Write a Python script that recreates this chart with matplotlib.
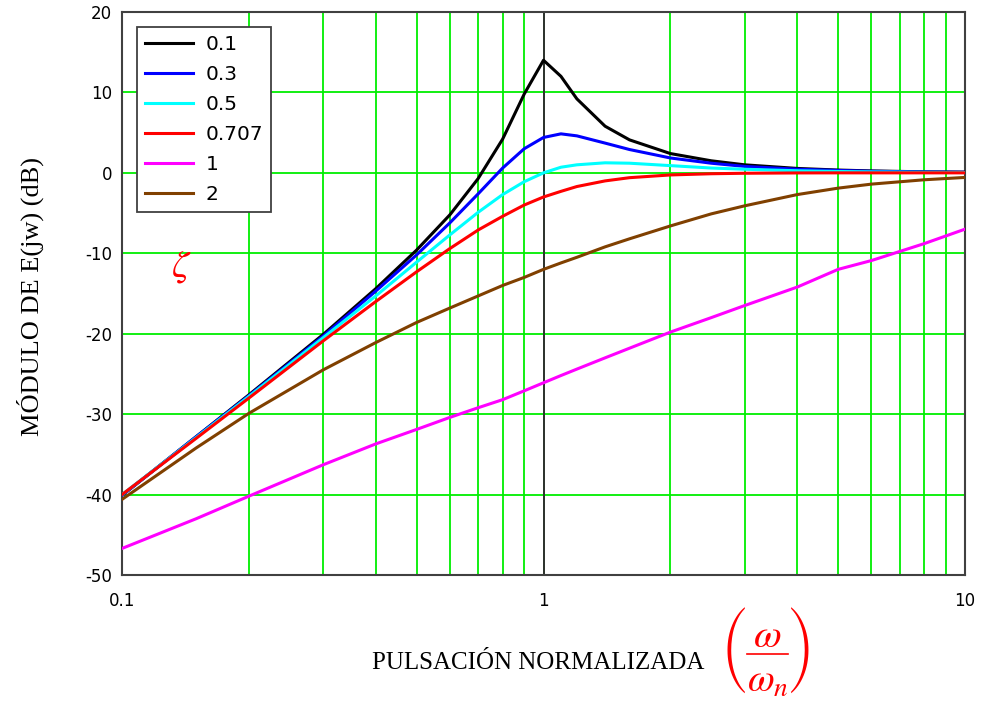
import matplotlib
matplotlib.use("Agg")
import matplotlib.pyplot as plt
from matplotlib.lines import Line2D
from matplotlib.ticker import LogLocator, NullFormatter

plt.rcParams['axes.unicode_minus'] = False
plt.rcParams['mathtext.fontset'] = 'stix'

# ---- data ----
freq = [0.1, 0.15, 0.2, 0.3, 0.4, 0.5, 0.6, 0.7, 0.8, 0.9, 1.0, 1.1, 1.2,
        1.4, 1.6, 2.0, 2.5, 3.0, 4.0, 5.0, 6.0, 8.0, 10.0]

z01 = [-40.1, -32.8, -27.6, -20.1, -14.4, -9.6, -5.2, -0.7, 4.2, 9.8, 14.0, 12.0, 9.2,
       5.8, 4.1, 2.4, 1.5, 1.0, 0.55, 0.35, 0.24, 0.13, 0.09]
z03 = [-40.1, -32.8, -27.7, -20.3, -14.7, -10.2, -6.2, -2.6, 0.6, 3.0, 4.4, 4.85, 4.6,
       3.7, 2.9, 1.85, 1.2, 0.8, 0.45, 0.3, 0.2, 0.11, 0.07]
z05 = [-40.0, -32.9, -27.8, -20.5, -15.3, -11.1, -7.7, -4.9, -2.7, -1.1, 0.0, 0.7, 1.0,
       1.25, 1.2, 0.9, 0.6, 0.45, 0.26, 0.17, 0.12, 0.07, 0.04]
z0707 = [-40.0, -33.0, -28.0, -20.9, -16.0, -12.3, -9.4, -7.1, -5.4, -4.0, -3.0, -2.3, -1.7,
         -1.0, -0.6, -0.26, -0.11, -0.05, -0.01, 0.0, 0.0, 0.0, 0.0]
z1 = [-46.7, -43.0, -40.2, -36.3, -33.7, -31.9, -30.4, -29.2, -28.2, -27.1, -26.1, -25.2, -24.4,
      -23.0, -21.8, -19.8, -18.0, -16.5, -14.2, -12.0, -10.9, -8.8, -7.0]
z2 = [-40.6, -34.2, -29.9, -24.5, -21.1, -18.6, -16.8, -15.3, -14.0, -13.0, -12.0, -11.2, -10.5,
      -9.2, -8.2, -6.6, -5.1, -4.1, -2.7, -1.9, -1.4, -0.86, -0.57]

series = [("0.1", z01, "#000000"),
          ("0.3", z03, "#0000ff"),
          ("0.5", z05, "#00ffff"),
          ("0.707", z0707, "#ff0000"),
          ("1", z1, "#ff00ff"),
          ("2", z2, "#804000")]

y_ticks = [-50, -40, -30, -20, -10, 0, 10, 20]
x_ticks = [0.1, 1, 10]
x_tick_labels = ["0.1", "1", "10"]

W, H = 984, 701
fig = plt.figure(figsize=(W / 100, H / 100), dpi=100)
L, R, T, B = 122, 965, 12, 575
ax = fig.add_axes([L / W, 1 - B / H, (R - L) / W, (B - T) / H])

ax.set_xscale('log')
ax.set_xlim(0.1, 10)
ax.set_ylim(-50, 20)

ax.set_xticks(x_ticks)
ax.set_xticklabels(x_tick_labels)
ax.xaxis.set_minor_locator(LogLocator(base=10, subs=range(2, 10)))
ax.xaxis.set_minor_formatter(NullFormatter())
ax.set_yticks(y_ticks)

ax.grid(True, which='both', axis='x', color='#00ee00', lw=1.3)
ax.grid(True, which='major', axis='y', color='#00ee00', lw=1.3)
ax.set_axisbelow(True)
ax.axvline(1, color='#303030', lw=1.4, zorder=1.5)

ax.tick_params(which='both', length=0, labelsize=12)
ax.tick_params(axis='y', pad=7)
ax.tick_params(axis='x', pad=12)

for sp in ax.spines.values():
    sp.set_color('#404040')
    sp.set_linewidth(1.5)

for lab, vals, col in series:
    ax.plot(freq, vals, color=col, lw=2.2, label=lab, zorder=3)

leg = ax.legend(loc='upper left', bbox_to_anchor=(15 / (R - L), 1 - 15 / (B - T)),
                borderaxespad=0, fontsize=14.5, handlelength=2.4, handletextpad=0.6,
                labelspacing=0.55, borderpad=0.4, fancybox=False, framealpha=1)
leg.get_frame().set_edgecolor('#404040')
leg.get_frame().set_linewidth(1.3)

fig.text(30 / W, 1 - 296 / H, "MÓDULO DE E(jw) (dB)", rotation=90, ha='center', va='center',
         fontsize=19, family='Liberation Serif')
fig.text(538 / W, 1 - 663 / H, "PULSACIÓN NORMALIZADA", ha='center', va='center',
         fontsize=18, family='Liberation Serif')

# normalised-frequency fraction (omega / omega_n) in red
red = '#ff0000'
fig.text(767 / W, 1 - 647 / H, r'$\omega$', ha='center', va='baseline', fontsize=29, color=red)
fig.text(768 / W, 1 - 692 / H, r'$\omega_n$', ha='center', va='baseline', fontsize=28, color=red)
fig.add_artist(Line2D([747 / W, 788 / W], [1 - 654 / H, 1 - 654 / H],
                      transform=fig.transFigure, color=red, lw=1.2))
fig.text(735 / W, 1 - 651 / H, '(', ha='center', va='center', fontsize=20.5,
         family='STIXSizeFourSym', color=red)
fig.text(800 / W, 1 - 651 / H, ')', ha='center', va='center', fontsize=20.5,
         family='STIXSizeFourSym', color=red)

fig.text(181 / W, 1 - 266 / H, r'$\zeta$', ha='center', va='center', fontsize=28, color=red)

fig.savefig("out.png", dpi=100)
